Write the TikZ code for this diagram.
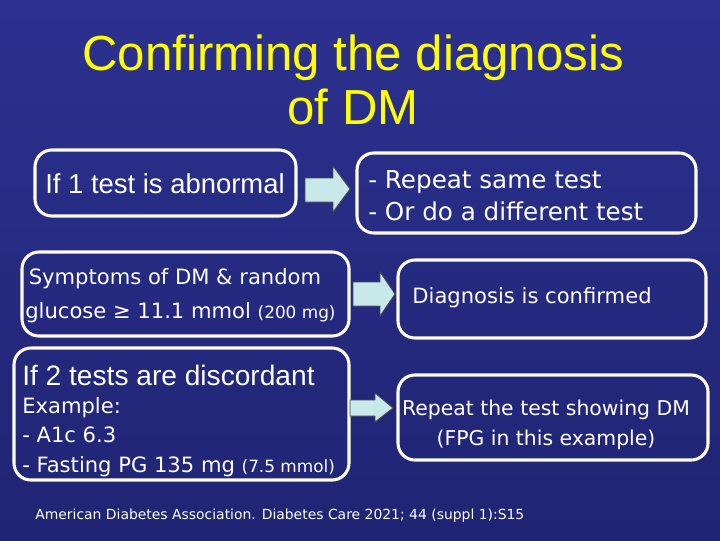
\documentclass[tikz,border=0pt]{standalone}
\usepackage{fontspec}
\setmainfont{DejaVu Sans}
\newfontfamily\arialfont{Liberation Sans}
\usetikzlibrary{positioning}
\definecolor{bgtop}{HTML}{2C3190}
\definecolor{bgbot}{HTML}{1F2473}
\definecolor{boxline}{HTML}{FFFBEA}
\definecolor{arrowfill}{HTML}{C9E8EA}
\definecolor{titleyellow}{HTML}{FFFF00}
\begin{document}
\begin{tikzpicture}[x=0.025cm,y=-0.025cm,every node/.style = {text=white,inner sep=0pt},
outbox/.style={draw=boxline,line width=2.2pt,rounded corners=12pt},
fatarrow/.style={draw=black!70,fill=arrowfill,line width=0.6pt}]
\shade[top color=bgtop,bottom color=bgbot] (0,0) rectangle (720,540);
\useasboundingbox (0,0) rectangle (720,540);
\node (title) [text=titleyellow,align=center,font=\arialfont\fontsize{35}{38}\selectfont] at (353,80) {Confirming the diagnosis\\of DM};
% boxes
\draw[outbox] (35,150) rectangle (296,216);
\node (abn) [font=\arialfont\fontsize{19.5}{22}\selectfont] at (165,184) {If 1 test is abnormal};
\draw[outbox] (357,153) rectangle (696,233);
\node (repeat) [anchor=west,align=left,font=\fontsize{17.5}{23}\selectfont] at (368,196) {- Repeat same test\\- Or do a different test};
\draw[outbox] (22,252) rectangle (349,336);
\node (symp) [anchor=west,align=left,font=\fontsize{15}{24}\selectfont] at (25,296)
  {\,Symptoms of DM \& random\\glucose ≥ 11.1 mmol {\fontsize{12}{14}\selectfont(200 mg)}};
\draw[outbox] (398,260) rectangle (706,338);
\node (conf) [font=\fontsize{15}{18}\selectfont] at (532,298) {Diagnosis is confirmed};
\draw[outbox] (14,348) rectangle (349,480);
\node (disc) [anchor=west,font=\arialfont\fontsize{20}{22}\selectfont] at (22,375) {If 2 tests are discordant};
\node (ex) [anchor=north west,align=left,font=\fontsize{15}{21}\selectfont] at (22,397)
  {Example:\\- A1c 6.3\\- Fasting PG 135 mg {\fontsize{12}{14}\selectfont(7.5 mmol)}};
\draw[outbox] (398,375) rectangle (708,460);
\node (rep) [align=center,font=\fontsize{14.5}{21}\selectfont] at (546,425) {Repeat the test showing DM\\(FPG in this example)};
% arrows
\draw[fatarrow] (305,178) -- (333,178) -- (333,166) -- (350,189) -- (333,212) -- (333,202) -- (305,202) -- cycle;
\draw[fatarrow] (353,282) -- (380,282) -- (380,272) -- (395,294) -- (380,316) -- (380,306) -- (353,306) -- cycle;
\draw[fatarrow] (350,400) -- (375,400) -- (375,393) -- (393,408) -- (375,422) -- (375,416) -- (350,416) -- cycle;
\node (ref) [anchor=west,font=\fontsize{9.9}{12}\selectfont] at (35,516) {American Diabetes Association. Diabetes Care 2021; 44 (suppl 1):S15};
\end{tikzpicture}
\end{document}
